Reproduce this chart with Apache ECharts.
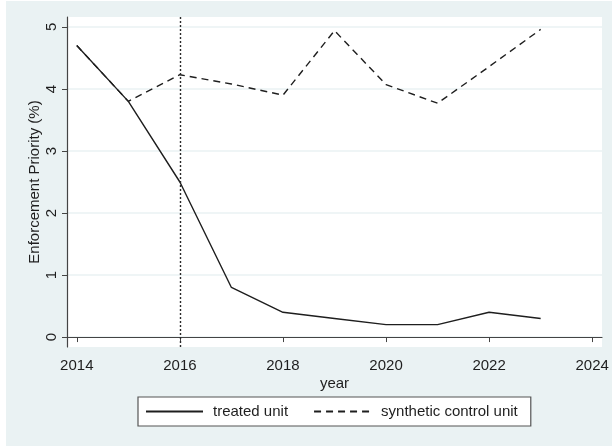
<!DOCTYPE html>
<html>
<head>
<meta charset="utf-8">
<script src="https://cdn.jsdelivr.net/npm/echarts@6/dist/echarts.min.js"></script>
<style>
  html, body { margin: 0; padding: 0; background: #ffffff; }
  #chart { width: 612px; height: 446px; }
</style>
</head>
<body>
<div id="chart"></div>
<script>
// Years on the horizontal axis
const years = [2014, 2015, 2016, 2017, 2018, 2019, 2020, 2021, 2022, 2023];
// Enforcement priority (%) of the treated unit
const treated = [4.7, 3.8, 2.5, 0.8, 0.4, 0.3, 0.2, 0.2, 0.4, 0.3];
// Enforcement priority (%) of the synthetic control unit
const synthetic = [4.7, 3.8, 4.23, 4.08, 3.9, 4.94, 4.07, 3.77, 4.36, 4.96];
// Treatment year marked with a vertical reference line
const treatmentYear = 2016;
// Axis tick values
const xTicks = [2014, 2016, 2018, 2020, 2022, 2024];
const yTicks = [0, 1, 2, 3, 4, 5];

const FONT = '"Liberation Sans", Arial, sans-serif';
const INK = '#1e1e1e';
const PANEL = '#eaf2f3';

const chart = echarts.init(document.getElementById('chart'), null, { renderer: 'canvas' });

const pairs = (ys) => years.map((y, i) => [y, ys[i]]);

chart.setOption({
  animation: false,
  backgroundColor: '#ffffff',
  graphic: [{
    type: 'rect', z: -10, silent: true,
    shape: { x: 6, y: 1, width: 606, height: 445 },
    style: { fill: PANEL }
  }],
  grid: {
    left: 67, top: 17, right: 10, bottom: 99,
    show: true, backgroundColor: '#ffffff', borderWidth: 0
  },
  xAxis: {
    type: 'value',
    min: 2013.81, max: 2024.19,
    name: 'year', nameLocation: 'middle', nameGap: 29,
    nameMoveOverlap: false,
    nameTextStyle: { fontFamily: FONT, fontSize: 15, color: INK },
    axisLine: { show: true, lineStyle: { color: '#444', width: 1.2 } },
    axisTick: { show: true, length: 5, inside: false, customValues: xTicks, lineStyle: { color: '#444' } },
    axisLabel: { customValues: xTicks, margin: 11, fontFamily: FONT, fontSize: 15, color: INK, formatter: v => String(v) },
    splitLine: { show: false }
  },
  yAxis: {
    type: 'value',
    min: -0.16, max: 5.16,
    name: 'Enforcement Priority (%)', nameLocation: 'middle', nameGap: 25,
    nameMoveOverlap: false,
    nameTextStyle: { fontFamily: FONT, fontSize: 15, color: INK },
    axisLine: { show: true, lineStyle: { color: '#444', width: 1.2 } },
    axisTick: { show: true, length: 5, inside: false, customValues: yTicks, lineStyle: { color: '#444' } },
    axisLabel: { customValues: yTicks, rotate: 90, margin: 8, fontFamily: FONT, fontSize: 15, color: INK, formatter: v => String(v) },
    splitLine: { show: true, lineStyle: { color: PANEL, width: 1.5 } }
  },
  legend: {
    left: 138, top: 397,
    padding: [7, 13, 7, 7],
    backgroundColor: '#ffffff',
    borderColor: '#555', borderWidth: 1.2, borderRadius: 0,
    itemWidth: 57, itemHeight: 14, itemGap: 25,
    itemStyle: { opacity: 0 },
    textStyle: { fontFamily: FONT, fontSize: 15, color: INK, padding: [0, 0, 0, 5] },
    data: ['treated unit', 'synthetic control unit']
  },
  series: [
    {
      name: 'treated unit',
      type: 'line',
      data: pairs(treated),
      symbol: 'none',
      lineStyle: { color: INK, width: 1.4, type: 'solid' },
      itemStyle: { color: INK },
      z: 3,
      markLine: {
        silent: true, symbol: 'none', animation: false,
        label: { show: false },
        lineStyle: { color: '#2a2a2a', width: 1.4, type: [2, 2] },
        data: [{ xAxis: treatmentYear }]
      }
    },
    {
      name: 'synthetic control unit',
      type: 'line',
      data: pairs(synthetic),
      symbol: 'none',
      lineStyle: { color: INK, width: 1.4, type: [7, 5] },
      itemStyle: { color: INK },
      z: 2
    }
  ]
});
</script>
</body>
</html>
